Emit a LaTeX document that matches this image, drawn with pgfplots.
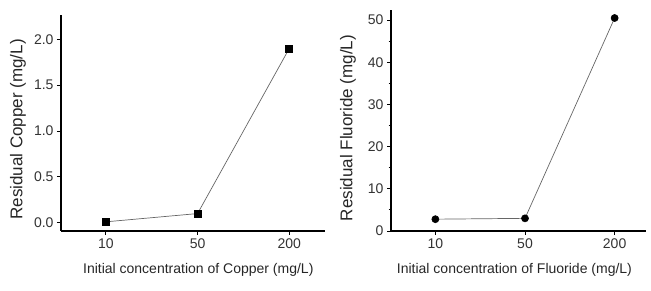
\documentclass[border=0pt]{standalone}
\usepackage{pgfplots}
\pgfplotsset{compat=1.18}
\usepackage{fontspec}
\setmainfont{Liberation Sans}
\begin{document}
\begin{tikzpicture}
\useasboundingbox (0pt,0pt) rectangle (651pt,291pt);
\pgfplotsset{
  myax/.style={
    scale only axis,
    axis x line*=bottom, axis y line*=left,
    axis line style={line width=1.2pt,-},
    every tick/.style={black,line width=0.9pt},
    tick align=outside, major tick length=4pt, minor tick length=2.5pt,
    xmin=-0.49, xmax=2.39,
    xtick={0,1,2}, xticklabels={10,50,200},
    tick label style={font=\fontsize{14}{16}\selectfont, text=black!80},
    label style={font=\fontsize{14}{16}\selectfont, text=black!85},
    /pgf/number format/assume math mode=true,
    clip=false,
  }
}
\begin{axis}[myax, at={(61pt,60pt)}, anchor=south west, width=264pt, height=216pt,
  ymin=-0.09, ymax=2.265, ytick={0,0.5,1.0,1.5,2.0},
  yticklabel style={/pgf/number format/.cd, fixed, fixed zerofill, precision=1},
  xlabel={Initial concentration of Copper (mg/L)},
  xlabel style={at={(axis description cs:0.52,-0.18)}, anchor=center},
  ylabel={Residual Copper (mg/L)},
  ylabel style={at={(axis description cs:-0.163,0.47)}, anchor=center, font=\fontsize{17}{19}\selectfont},
]
\addplot[black!60, line width=0.7pt, mark=square*, mark size=3.5pt, mark options={black, solid}] coordinates {(0,0.01) (1,0.10) (2,1.90)};
\end{axis}
\begin{axis}[myax, at={(391pt,60pt)}, anchor=south west, width=255pt, height=221pt,
  xmin=-0.495, xmax=2.35,
  ymin=0, ymax=52.4, ytick={0,10,20,30,40,50}, minor y tick num=1,
  xlabel={Initial concentration of Fluoride (mg/L)},
  xlabel style={at={(axis description cs:0.484,-0.176)}, anchor=center},
  ylabel={Residual Fluoride (mg/L)},
  ylabel style={at={(axis description cs:-0.169,0.466)}, anchor=center, font=\fontsize{17}{19}\selectfont},
]
\addplot[black!60, line width=0.7pt, mark=*, mark size=3.5pt, mark options={black, solid}] coordinates {(0,2.8) (1,3.0) (2,50.5)};
\end{axis}
\end{tikzpicture}
\end{document}
